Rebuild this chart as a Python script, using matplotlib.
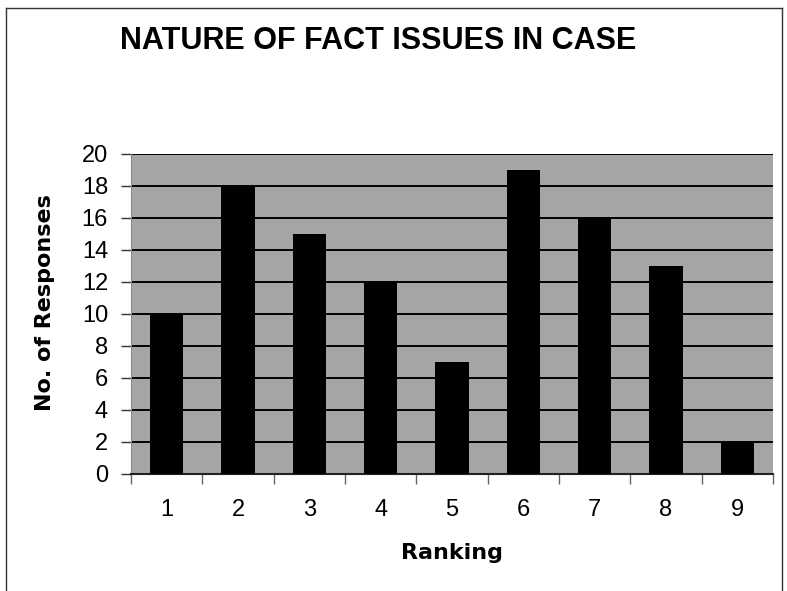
import matplotlib
matplotlib.use("Agg")
import matplotlib.pyplot as plt
from matplotlib.lines import Line2D

# Survey data: number of responses per ranking
rankings = ["1", "2", "3", "4", "5", "6", "7", "8", "9"]
responses = [10, 18, 15, 12, 7, 19, 16, 13, 2]
y_ticks = [0, 2, 4, 6, 8, 10, 12, 14, 16, 18, 20]

plt.rcParams["font.family"] = ["Liberation Sans", "DejaVu Sans"]

W, H = 787, 591
fig = plt.figure(figsize=(W / 100, H / 100), dpi=100)
ax = fig.add_axes([131 / W, 1 - 474 / H, 642 / W, 320 / H])

ax.set_facecolor("#a5a5a5")
x = list(range(len(rankings)))
ax.bar(x, responses, width=0.47, color="black", zorder=3)

ax.set_xlim(-0.5, len(rankings) - 0.5)
ax.set_ylim(0, 20)
ax.set_yticks(y_ticks)
ax.set_yticklabels([str(v) for v in y_ticks], fontsize=17)
ax.set_xticks(x)
ax.set_xticklabels(rankings, fontsize=17)
ax.set_xticks([i - 0.5 for i in range(len(rankings) + 1)], minor=True)

ax.grid(axis="y", color="black", linewidth=1.4, zorder=1)
ax.set_axisbelow(True)

ax.tick_params(axis="y", length=7, width=1, color="#333333", pad=9.5)
ax.tick_params(axis="x", which="major", length=0, pad=18)
ax.tick_params(axis="x", which="minor", length=7, width=1, color="#666666")

for side in ["top", "right"]:
    ax.spines[side].set_visible(False)
ax.spines["left"].set_color("#888888")
ax.spines["bottom"].set_color("#222222")
ax.spines["bottom"].set_linewidth(1.5)

# Axis titles
fig.text(452 / W, 1 - 559 / H, "Ranking", family="DejaVu Sans",
         fontsize=16, fontweight="bold", ha="center", va="baseline")
fig.text(45 / W, 1 - 303 / H, "No. of Responses", family="DejaVu Sans",
         fontsize=16, fontweight="bold", rotation=90, ha="center", va="center")

fig.text(378 / W, 1 - 41 / H, "NATURE OF FACT ISSUES IN CASE",
         fontsize=22, fontweight="bold", ha="center", va="center")

# Chart frame (top, left and right edges)
frame_kw = dict(color="#333333", linewidth=1.0, transform=fig.transFigure)
fig.add_artist(Line2D([6 / W, 782 / W], [1 - 8 / H, 1 - 8 / H], **frame_kw))
fig.add_artist(Line2D([6 / W, 6 / W], [1 - 8 / H, 0], **frame_kw))
fig.add_artist(Line2D([782 / W, 782 / W], [1 - 8 / H, 0], **frame_kw))

fig.savefig("out.png", dpi=100)
